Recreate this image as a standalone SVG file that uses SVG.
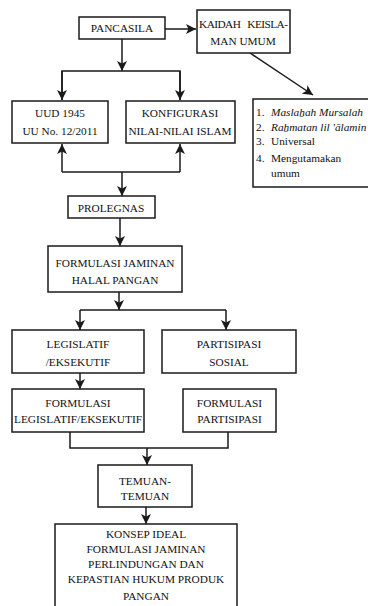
<svg xmlns="http://www.w3.org/2000/svg" width="368" height="606" viewBox="0 0 368 606">
<style>
  .box { fill: #fff; stroke: #1a1a1a; stroke-width: 1.5; }
  .ln { fill: none; stroke: #1a1a1a; stroke-width: 1.5; }
  text { font-family: 'Liberation Serif', serif; font-size: 11.3px; fill: #111; }
  .c { text-anchor: middle; }
  .it { font-style: italic; }
</style>
<defs>
  <marker id="ah" markerUnits="userSpaceOnUse" markerWidth="11" markerHeight="10" refX="10" refY="5" orient="auto">
    <path d="M0,0 L10,5 L0,10 L2.5,5 Z" fill="#1a1a1a"/>
  </marker>
</defs>
<rect width="368" height="606" fill="#fff"/>

<g id="connectors">
  <line class="ln" x1="165" y1="29" x2="196" y2="29" marker-end="url(#ah)"/>
  <line class="ln" x1="250" y1="53" x2="313" y2="95" marker-end="url(#ah)"/>
  <line class="ln" x1="122" y1="39" x2="122" y2="71" marker-end="url(#ah)"/>
  <polyline class="ln" points="62,100 62,71 180,71 180,100"/>
  <line class="ln" x1="62" y1="71" x2="62" y2="100" marker-end="url(#ah)"/>
  <line class="ln" x1="180" y1="71" x2="180" y2="100" marker-end="url(#ah)"/>
  <polyline class="ln" points="62,172 180,172"/>
  <line class="ln" x1="62" y1="172" x2="62" y2="144" marker-end="url(#ah)"/>
  <line class="ln" x1="180" y1="172" x2="180" y2="144" marker-end="url(#ah)"/>
  <line class="ln" x1="122" y1="172" x2="122" y2="196" marker-end="url(#ah)"/>
  <line class="ln" x1="120" y1="218" x2="120" y2="246" marker-end="url(#ah)"/>
  <line class="ln" x1="119" y1="292" x2="119" y2="310" marker-end="url(#ah)"/>
  <polyline class="ln" points="80,310 226,310"/>
  <line class="ln" x1="80" y1="310" x2="80" y2="330" marker-end="url(#ah)"/>
  <line class="ln" x1="226" y1="310" x2="226" y2="330" marker-end="url(#ah)"/>
  <line class="ln" x1="80" y1="373" x2="80" y2="389" marker-end="url(#ah)"/>
  <polyline class="ln" points="70,432 70,448 228,448 228,432"/>
  <line class="ln" x1="147" y1="448" x2="147" y2="465" marker-end="url(#ah)"/>
  <line class="ln" x1="146" y1="507" x2="146" y2="524" marker-end="url(#ah)"/>
</g>

<g id="pancasila">
  <rect class="box" x="79" y="17" width="86" height="22"/>
  <text class="c" x="122" y="32">PANCASILA</text>
</g>
<g id="kaidah">
  <rect class="box" x="197" y="10" width="93" height="43"/>
  <text x="199" y="28" style="white-space:pre" textLength="89" lengthAdjust="spacing">KAIDAH   KEISLA-</text>
  <text class="c" x="243" y="45">MAN UMUM</text>
</g>
<g id="list">
  <rect class="box" x="253" y="99" width="116" height="88"/>
  <text x="256" y="116">1.</text><text class="it" x="271" y="116">Maslaẖah Mursalah</text>
  <text x="256" y="131">2.</text><text class="it" x="271" y="131">Raẖmatan lil 'ālamin</text>
  <text x="256" y="145">3.</text><text x="271" y="145">Universal</text>
  <text x="256" y="162">4.</text><text x="271" y="162">Mengutamakan</text>
  <text x="271" y="177">umum</text>
</g>
<g id="uud">
  <rect class="box" x="12" y="101" width="96" height="42"/>
  <text class="c" x="60" y="117">UUD 1945</text>
  <text class="c" x="60" y="135">UU No. 12/2011</text>
</g>
<g id="konfigurasi">
  <rect class="box" x="126" y="101" width="109" height="42"/>
  <text class="c" x="180" y="117">KONFIGURASI</text>
  <text class="c" x="180" y="135">NILAI-NILAI ISLAM</text>
</g>
<g id="prolegnas">
  <rect class="box" x="68" y="196" width="87" height="22"/>
  <text class="c" x="111" y="212">PROLEGNAS</text>
</g>
<g id="formulasi-jaminan">
  <rect class="box" x="48" y="246" width="134" height="46"/>
  <text class="c" x="115" y="267">FORMULASI JAMINAN</text>
  <text class="c" x="115" y="284">HALAL PANGAN</text>
</g>
<g id="legislatif">
  <rect class="box" x="12" y="330" width="132" height="43"/>
  <text class="c" x="78" y="348">LEGISLATIF</text>
  <text class="c" x="78" y="366">/EKSEKUTIF</text>
</g>
<g id="partisipasi-sosial">
  <rect class="box" x="162" y="330" width="134" height="43"/>
  <text class="c" x="229" y="348">PARTISIPASI</text>
  <text class="c" x="229" y="366">SOSIAL</text>
</g>
<g id="formulasi-legislatif">
  <rect class="box" x="12" y="389" width="132" height="43"/>
  <text class="c" x="78" y="407">FORMULASI</text>
  <text class="c" x="78" y="423" textLength="128" lengthAdjust="spacingAndGlyphs">LEGISLATIF/EKSEKUTIF</text>
</g>
<g id="formulasi-partisipasi">
  <rect class="box" x="183" y="389" width="93" height="43"/>
  <text class="c" x="229.5" y="407">FORMULASI</text>
  <text class="c" x="229.5" y="423">PARTISIPASI</text>
</g>
<g id="temuan">
  <rect class="box" x="98" y="465" width="94" height="42"/>
  <text class="c" x="145" y="485">TEMUAN-</text>
  <text class="c" x="145" y="500">TEMUAN</text>
</g>
<g id="konsep">
  <rect class="box" x="55" y="524" width="182" height="90"/>
  <text class="c" x="146" y="538">KONSEP IDEAL</text>
  <text class="c" x="146" y="553">FORMULASI JAMINAN</text>
  <text class="c" x="146" y="568">PERLINDUNGAN DAN</text>
  <text class="c" x="146" y="583">KEPASTIAN HUKUM PRODUK</text>
  <text class="c" x="146" y="600">PANGAN</text>
</g>
</svg>
